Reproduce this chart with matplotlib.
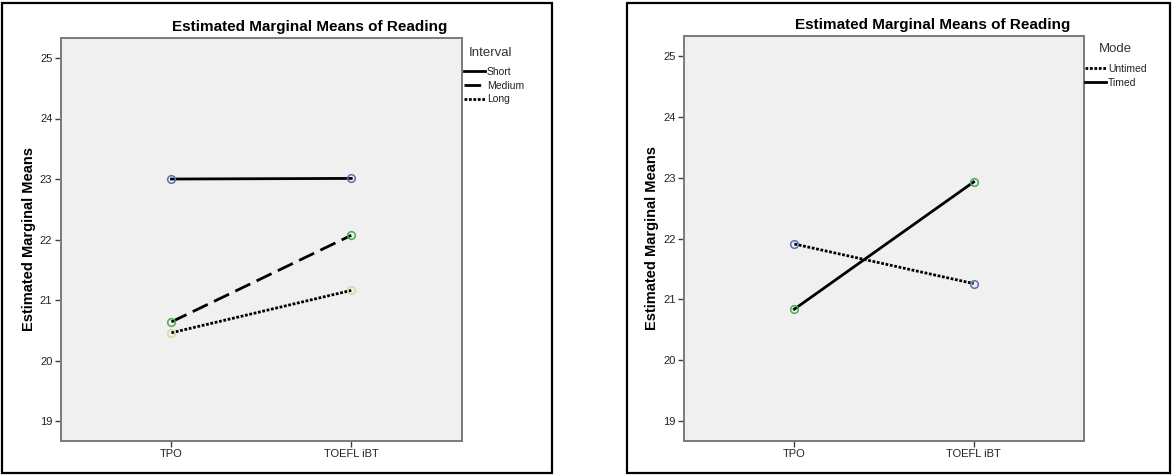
import matplotlib.pyplot as plt
from matplotlib.patches import Rectangle

plt.rcParams['font.family'] = ['Liberation Sans', 'DejaVu Sans']

# data
tests = ["TPO", "TOEFL iBT"]

interval_names = ["Short", "Medium", "Long"]
short_means = [23.00, 23.01]
medium_means = [20.64, 22.07]
long_means = [20.46, 21.16]

mode_names = ["Untimed", "Timed"]
untimed_means = [21.91, 21.26]
timed_means = [20.84, 22.93]

blue = "#5b6fb5"
green = "#4caa4c"
khaki = "#d8d8a0"

W, H = 1172, 475
fig = plt.figure(figsize=(W / 100, H / 100), dpi=100)

# outer frames round each chart
for x0, x1 in [(2, 552), (627, 1170)]:
    fig.patches.append(Rectangle((x0 / W, 2 / H), (x1 - x0) / W, 470 / H,
                                 transform=fig.transFigure, fill=False,
                                 edgecolor="black", linewidth=1.6))

ax1 = fig.add_axes([60.7 / W, 1 - 440.5 / H, (462 - 60.7) / W, (440.5 - 38) / H])
ax2 = fig.add_axes([684 / W, 1 - 440.5 / H, (1084 - 684) / W, (440.5 - 36) / H])


def style_axes(ax):
    ax.set_facecolor("#f0f0f0")
    ax.set_xlim(-0.616, 1.616)
    ax.set_ylim(18.68, 25.33)
    ax.set_yticks(range(19, 26))
    ax.set_xticks([0, 1])
    ax.set_xticklabels(tests)
    ax.tick_params(axis="both", labelsize=8, length=4, width=1, color="#404040",
                   labelcolor="#222222", pad=2)
    for sp in ax.spines.values():
        sp.set_color("#7a7a7a")
        sp.set_linewidth(1.4)
    ax.set_ylabel("Estimated Marginal Means", fontsize=10.5, fontweight="bold", labelpad=3)


def series(ax, vals, style, mcol, label):
    ax.plot([0, 1], vals, color="black", linewidth=2.0, linestyle=style, label=label,
            zorder=2)
    ax.plot([0, 1], vals, linestyle="none", marker="o", markersize=5.5,
            markerfacecolor="none", markeredgecolor=mcol, markeredgewidth=1.1, zorder=3)


style_axes(ax1)
series(ax1, short_means, "-", blue, interval_names[0])
series(ax1, medium_means, (0, (6, 2.5)), green, interval_names[1])
series(ax1, long_means, (0, (1, 0.6)), khaki, interval_names[2])

style_axes(ax2)
series(ax2, untimed_means, (0, (1, 0.6)), blue, mode_names[0])
series(ax2, timed_means, "-", green, mode_names[1])

fig.text(310 / W, 1 - 27 / H, "Estimated Marginal Means of Reading",
         ha="center", va="center", fontsize=11, fontweight="bold")
fig.text(933 / W, 1 - 25 / H, "Estimated Marginal Means of Reading",
         ha="center", va="center", fontsize=11, fontweight="bold")

# legend titles placed by hand, entries via ax.legend
fig.text(490 / W, 1 - 53 / H, "Interval", ha="center", va="center", fontsize=9.5,
         color="#333333")
fig.text(1115 / W, 1 - 49 / H, "Mode", ha="center", va="center", fontsize=9.5,
         color="#333333")

for ax, anchor in [(ax1, (464 / W, 1 - 67 / H)), (ax2, (1085 / W, 1 - 64 / H))]:
    leg = ax.legend(loc="upper left", bbox_to_anchor=anchor, bbox_transform=fig.transFigure,
                    frameon=False, fontsize=7.5, handlelength=2.0, handletextpad=0.2,
                    labelspacing=0.35, borderaxespad=0, borderpad=0)
    for t in leg.get_texts():
        t.set_color("#222222")

fig.savefig("out.png", dpi=100, facecolor="white")
